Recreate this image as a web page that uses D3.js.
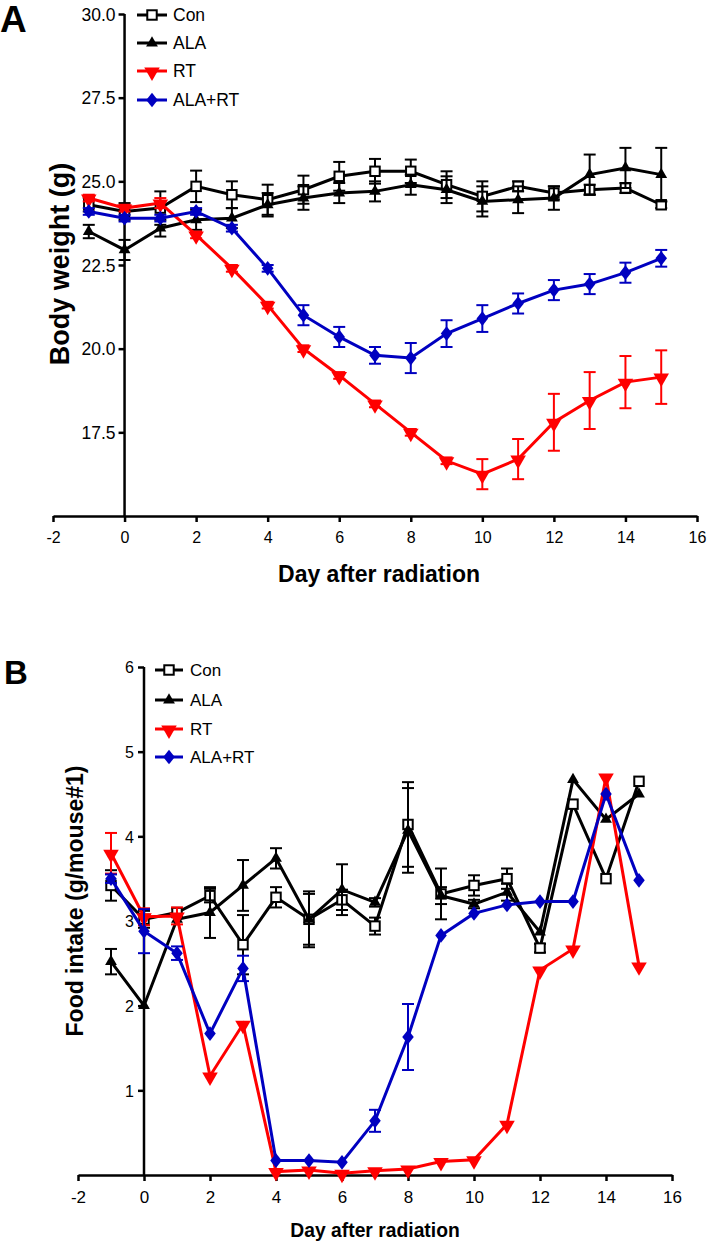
<!DOCTYPE html>
<html><head><meta charset="utf-8">
<script src="https://cdn.jsdelivr.net/npm/d3@7"></script>
<style>body{margin:0;background:#fff}svg{display:block;font-family:Arial,"Liberation Sans",sans-serif}</style>
</head><body>
<svg id="c" width="707" height="1244"></svg>
<script>
const days = [-1,0,1,2,3,4,5,6,7,8,9,10,11,12,13,14,15];
const seriesNames = ["Con","ALA","RT","ALA+RT"];

// Panel A: body weight (g)
const conWeight    = [24.3,24.1,24.2,24.85,24.6,24.45,24.75,25.15,25.3,25.3,24.9,24.55,24.85,24.65,24.75,24.8,24.3];
const conWeightErr = [0.2,0.25,0.5,0.47,0.4,0.45,0.42,0.43,0.37,0.35,0.4,0.45,0.15,0.2,0.15,0.15,0.1];
const alaWeight    = [23.5,22.95,23.6,23.85,23.9,24.3,24.5,24.65,24.7,24.9,24.75,24.4,24.45,24.5,25.2,25.4,25.2];
const alaWeightErr = [0.2,0.3,0.25,0.3,0.3,0.35,0.35,0.3,0.3,0.3,0.4,0.45,0.4,0.35,0.6,0.6,0.8];
const rtWeight     = [24.5,24.2,24.35,23.4,22.4,21.3,20.0,19.2,18.35,17.5,16.65,16.25,16.7,17.8,18.45,19.0,19.15];
const rtWeightErr  = [0.1,0.1,0.15,0.1,0.1,0.1,0.1,0.1,0.1,0.1,0.1,0.45,0.6,0.85,0.85,0.78,0.8];
const alaRtWeight    = [24.1,23.9,23.9,24.1,23.6,22.4,21.0,20.35,19.8,19.72,20.45,20.9,21.35,21.75,21.93,22.27,22.7];
const alaRtWeightErr = [0.1,0.1,0.1,0.1,0.1,0.1,0.3,0.3,0.25,0.45,0.4,0.4,0.3,0.3,0.3,0.3,0.25];

// Panel B: food intake (g/mouse#1)
const conFood    = [3.42,3.02,3.1,3.3,2.72,3.28,3.02,3.25,2.94,4.14,3.32,3.42,3.5,2.68,4.38,3.5,4.65];
const conFoodErr = [0.18,0.1,0.05,0.08,0.35,0.12,0.33,0.12,0.1,0.5,0.3,0.12,0.12,0.05,0,0,0];
const alaFood    = [2.52,2.0,3.02,3.1,3.42,3.74,3.02,3.37,3.22,4.07,3.3,3.2,3.34,2.87,4.67,4.2,4.5];
const alaFoodErr = [0.15,0,0,0.3,0.3,0.12,0.3,0.3,0.05,0.5,0.1,0.05,0.1,0,0,0,0];
const rtFood     = [3.8,3.05,3.06,1.17,1.78,0.04,0.06,0.02,0.05,0.07,0.16,0.18,0.6,2.42,2.67,4.7,2.47];
const rtFoodErr  = [0.24,0.1,0.1,0,0,0,0,0,0,0,0,0,0,0,0,0,0];
const alaRtFood    = [3.5,2.88,2.62,1.67,2.44,0.17,0.17,0.15,0.64,1.63,2.83,3.09,3.19,3.23,3.23,4.5,3.48];
const alaRtFoodErr = [0.05,0.26,0.08,0,0.15,0,0,0,0.13,0.39,0,0,0,0,0,0,0];

const xTicks = [-2,0,2,4,6,8,10,12,14,16];
const yTicksA = [17.5,20,22.5,25,27.5,30];
const yTicksB = [1,2,3,4,5,6];

const colors = {"Con":"#000","ALA":"#000","RT":"#ff0000","ALA+RT":"#0000c0"};
const svg = d3.select("#c");

function marker(g, name, x, y, s) {
  const c = colors[name];
  if (name === "Con") {
    g.append("rect").attr("x", x-4.5*s).attr("y", y-4.5*s).attr("width", 9*s).attr("height", 9*s)
      .attr("fill","#fff").attr("stroke","#000").attr("stroke-width",2);
  } else if (name === "ALA") {
    g.append("path").attr("d", d3.symbol(d3.symbolTriangle, 55*s*s)()).attr("transform",`translate(${x},${y})`).attr("fill",c);
  } else if (name === "RT") {
    g.append("path").attr("d", d3.symbol(d3.symbolTriangle, 95*s*s)()).attr("transform",`translate(${x},${y+1}) rotate(180)`).attr("fill",c);
  } else {
    g.append("path").attr("d", `M0,${-7*s}L${5.5*s},0L0,${7*s}L${-5.5*s},0Z`).attr("transform",`translate(${x},${y})`).attr("fill",c);
  }
}

function panel(o) {
  const x = d3.scaleLinear().domain([-2,16]).range(o.xr);
  const y = d3.scaleLinear().domain(o.yd).range(o.yr);
  const g = svg.append("g");
  // axes
  const ya = g.append("g").attr("transform",`translate(${x(0)},0)`)
    .call(d3.axisLeft(y).tickValues(o.yTicks).tickFormat(o.fmt).tickSize(6).tickSizeOuter(0));
  ya.select(".domain").remove();
  g.append("line").attr("x1",x(0)).attr("x2",x(0)).attr("y1",y(o.yd[1])).attr("y2",y(o.yd[0])).attr("stroke","#000").attr("stroke-width",2.5);
  ya.selectAll(".tick line").attr("stroke","#000").attr("stroke-width",2.5);
  ya.selectAll(".tick text").attr("font-size",o.yTickFs).attr("fill","#000").attr("x",o.yTickX).attr("dy","0.36em");
  const xa = g.append("g").attr("transform",`translate(0,${y(o.yd[0])})`)
    .call(d3.axisBottom(x).tickValues(xTicks).tickFormat(d=>String(d)).tickSize(6).tickSizeOuter(0));
  xa.select(".domain").attr("stroke-width",2.5).attr("stroke","#000");
  xa.selectAll(".tick line").attr("stroke","#000").attr("stroke-width",2.5);
  xa.selectAll(".tick text").attr("font-size",o.xTickFs).attr("fill","#000").attr("y",o.xTickY).attr("dy","0.71em");

  // series
  o.series.forEach((s,i) => {
    const c = colors[s.name];
    const sg = g.append("g");
    const pts = days.map((d,j)=>({d, v:s.v[j], e:s.e[j]}));
    pts.filter(p=>p.e>0).forEach(p=>{
      const px = x(p.d);
      sg.append("line").attr("x1",px).attr("x2",px).attr("y1",y(p.v-p.e)).attr("y2",y(p.v+p.e)).attr("stroke",c).attr("stroke-width",2);
      [p.v-p.e,p.v+p.e].forEach(v=>sg.append("line").attr("x1",px-6).attr("x2",px+6).attr("y1",y(v)).attr("y2",y(v)).attr("stroke",c).attr("stroke-width",2));
    });
    sg.append("path").datum(pts).attr("fill","none").attr("stroke",c).attr("stroke-width",o.lw)
      .attr("d", d3.line().x(p=>x(p.d)).y(p=>y(p.v)));
    pts.forEach(p=>marker(sg, s.name, x(p.d), y(p.v), o.ms));
  });

  // legend
  seriesNames.forEach((n,i)=>{
    const ly = o.leg.y[i];
    g.append("line").attr("x1",o.leg.x0).attr("x2",o.leg.x1).attr("y1",ly).attr("y2",ly).attr("stroke",colors[n]).attr("stroke-width",3);
    marker(g, n, (o.leg.x0+o.leg.x1)/2, ly, o.ms);
    g.append("text").attr("x",o.leg.tx).attr("y",ly).attr("dy","0.36em").attr("font-size",o.leg.fs).text(n);
  });

  // titles
  g.append("text").attr("transform",`translate(${o.yt.x},${o.yt.y}) rotate(-90) scale(${o.yt.sx},1)`).attr("text-anchor","middle")
    .attr("font-weight","bold").attr("font-size",o.yt.fs).text(o.yt.t);
  g.append("text").attr("transform",`translate(${o.xt.x},${o.xt.y}) scale(${o.xt.sx},1)`).attr("text-anchor","middle")
    .attr("font-weight","bold").attr("font-size",o.xt.fs).text("Day after radiation");
  g.append("text").attr("x",o.lab.x).attr("y",o.lab.y).attr("font-weight","bold").attr("font-size",o.lab.fs).text(o.lab.t);
}

panel({
  xr:[53,697], yd:[15,30], yr:[516,14], yTicks:yTicksA, fmt:d3.format(".1f"),
  yTickFs:17.5, yTickX:-9, xTickFs:16, xTickY:16,
  lw:3, ms:1.05,
  series:[{name:"Con",v:conWeight,e:conWeightErr},{name:"ALA",v:alaWeight,e:alaWeightErr},{name:"RT",v:rtWeight,e:rtWeightErr},{name:"ALA+RT",v:alaRtWeight,e:alaRtWeightErr}],
  leg:{x0:137,x1:167,tx:173,y:[15,43,71,100],fs:17.5},
  yt:{x:69,y:264,fs:27,sx:1,t:"Body weight (g)"},
  xt:{x:379,y:582,fs:23,sx:1},
  lab:{x:0,y:32,fs:37,t:"A"}
});

panel({
  xr:[78,672], yd:[0,6], yr:[1175,667], yTicks:yTicksB, fmt:d3.format("d"),
  yTickFs:16, yTickX:-10, xTickFs:17, xTickY:15.5,
  lw:3, ms:1.05,
  series:[{name:"Con",v:conFood,e:conFoodErr},{name:"ALA",v:alaFood,e:alaFoodErr},{name:"RT",v:rtFood,e:rtFoodErr},{name:"ALA+RT",v:alaRtFood,e:alaRtFoodErr}],
  leg:{x0:155,x1:183,tx:190,y:[670,700,729,757],fs:17},
  yt:{x:83,y:901,fs:23,sx:1,t:"Food intake (g/mouse#1)"},
  xt:{x:375,y:1237,fs:21,sx:0.92},
  lab:{x:4,y:684,fs:33,t:"B"}
});
</script>
</body></html>
